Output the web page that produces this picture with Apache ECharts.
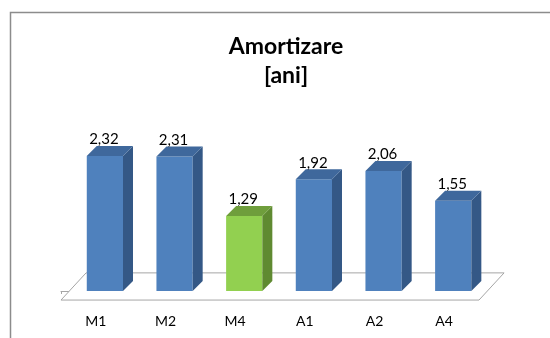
<!DOCTYPE html>
<html><head><meta charset="utf-8">
<script src="https://cdn.jsdelivr.net/npm/echarts@6/dist/echarts.min.js"></script>
<style>html,body{margin:0;padding:0;background:#fff}#c{width:550px;height:338px}</style>
</head><body><div id="c"></div>
<script>
const titleLines = ['Amortizare', '[ani]'];
const categories = ['M1', 'M2', 'M4', 'A1', 'A2', 'A4'];
const values = [2.32, 2.31, 1.29, 1.92, 2.06, 1.55];
const highlighted = ['M4'];

const FONT = 'Lato, "Liberation Sans", sans-serif';
const palettes = {
  normal: { front: '#4F81BD', top: '#3F689C', side: '#345886' },
  highlight: { front: '#92D050', top: '#6F9E3C', side: '#5F8A31' }
};
const DEPTH_X = 10, DEPTH_Y = 10;

function fmt(v) { return v.toFixed(2).replace('.', ','); }

function renderFloor(params, api) {
  const n = categories.length;
  const band = api.size([1, 0])[0];
  const a = api.coord([0, 0]);
  const b = api.coord([n - 1, 0]);
  const yF = a[1] + band * 0.13;
  const xL = a[0] - band / 2, xR = b[0] + band / 2;
  const fx = band * 0.36, fy = band * 0.39;
  return {
    type: 'polygon',
    shape: { points: [[xL, yF], [xR, yF], [xR + fx, yF - fy], [xL + fx, yF - fy]] },
    style: { fill: '#ffffff', stroke: '#a6a6a6', lineWidth: 1 },
    z2: 0
  };
}

function renderBar(params, api) {
  const idx = api.value(0);
  const v = api.value(1);
  const pal = highlighted.indexOf(categories[idx]) >= 0 ? palettes.highlight : palettes.normal;
  const band = api.size([1, 0])[0];
  const top = api.coord([idx, v]);
  const base = api.coord([idx, 0]);
  const x0 = top[0] - band * 0.13;
  const x1 = x0 + band * 0.52;
  const yT = top[1], yB = base[1];
  return {
    type: 'group',
    children: [
      { type: 'rect', shape: { x: x0, y: yT, width: x1 - x0, height: yB - yT },
        style: { fill: pal.front } },
      { type: 'polygon', shape: { points: [[x1, yT], [x1 + DEPTH_X, yT - DEPTH_Y], [x1 + DEPTH_X, yB - DEPTH_Y], [x1, yB]] },
        style: { fill: pal.side } },
      { type: 'polygon', shape: { points: [[x0, yT], [x0 + DEPTH_X, yT - DEPTH_Y], [x1 + DEPTH_X, yT - DEPTH_Y], [x1, yT]] },
        style: { fill: pal.top } },
      { type: 'text', style: { x: (x0 + x1) / 2 - 1, y: yT - DEPTH_Y + 1, text: fmt(v),
        textAlign: 'center', textVerticalAlign: 'bottom', fontSize: 15, fontFamily: FONT, fill: '#000' } }
    ]
  };
}

const chart = echarts.init(document.getElementById('c'), null, { renderer: 'canvas' });
chart.setOption({
  animation: false,
  backgroundColor: '#ffffff',
  title: {
    text: titleLines.join('\n'),
    left: 281,
    textAlign: 'center',
    top: 27,
    textStyle: { fontFamily: FONT, fontWeight: 'bold', fontSize: 23, lineHeight: 29, color: '#000' }
  },
  graphic: [{
    type: 'rect', shape: { x: 10.5, y: 12.5, width: 600, height: 400 },
    style: { fill: 'none', stroke: '#8c8c8c', lineWidth: 1.5 }, silent: true, z: 0
  }],
  grid: { left: 61, right: 71, top: 145.5, bottom: 47 },
  xAxis: {
    type: 'category', data: categories, offset: 9,
    axisLine: { show: true, lineStyle: { color: '#a6a6a6', width: 1 } },
    axisTick: { show: true, length: 3, lineStyle: { color: '#a6a6a6' } },
    axisLabel: { margin: 14, fontSize: 14, color: '#000', fontFamily: FONT },
    splitLine: { show: false }
  },
  yAxis: { type: 'value', min: 0, max: 2.5, show: false, splitLine: { show: false } },
  series: [
    { type: 'custom', renderItem: renderFloor, data: [[0, 0]], clip: false, z: 1, silent: true },
    { type: 'custom', renderItem: renderBar, data: values.map((v, i) => [i, v]),
      encode: { x: 0, y: 1 }, clip: false, z: 2 }
  ]
});
</script></body></html>
